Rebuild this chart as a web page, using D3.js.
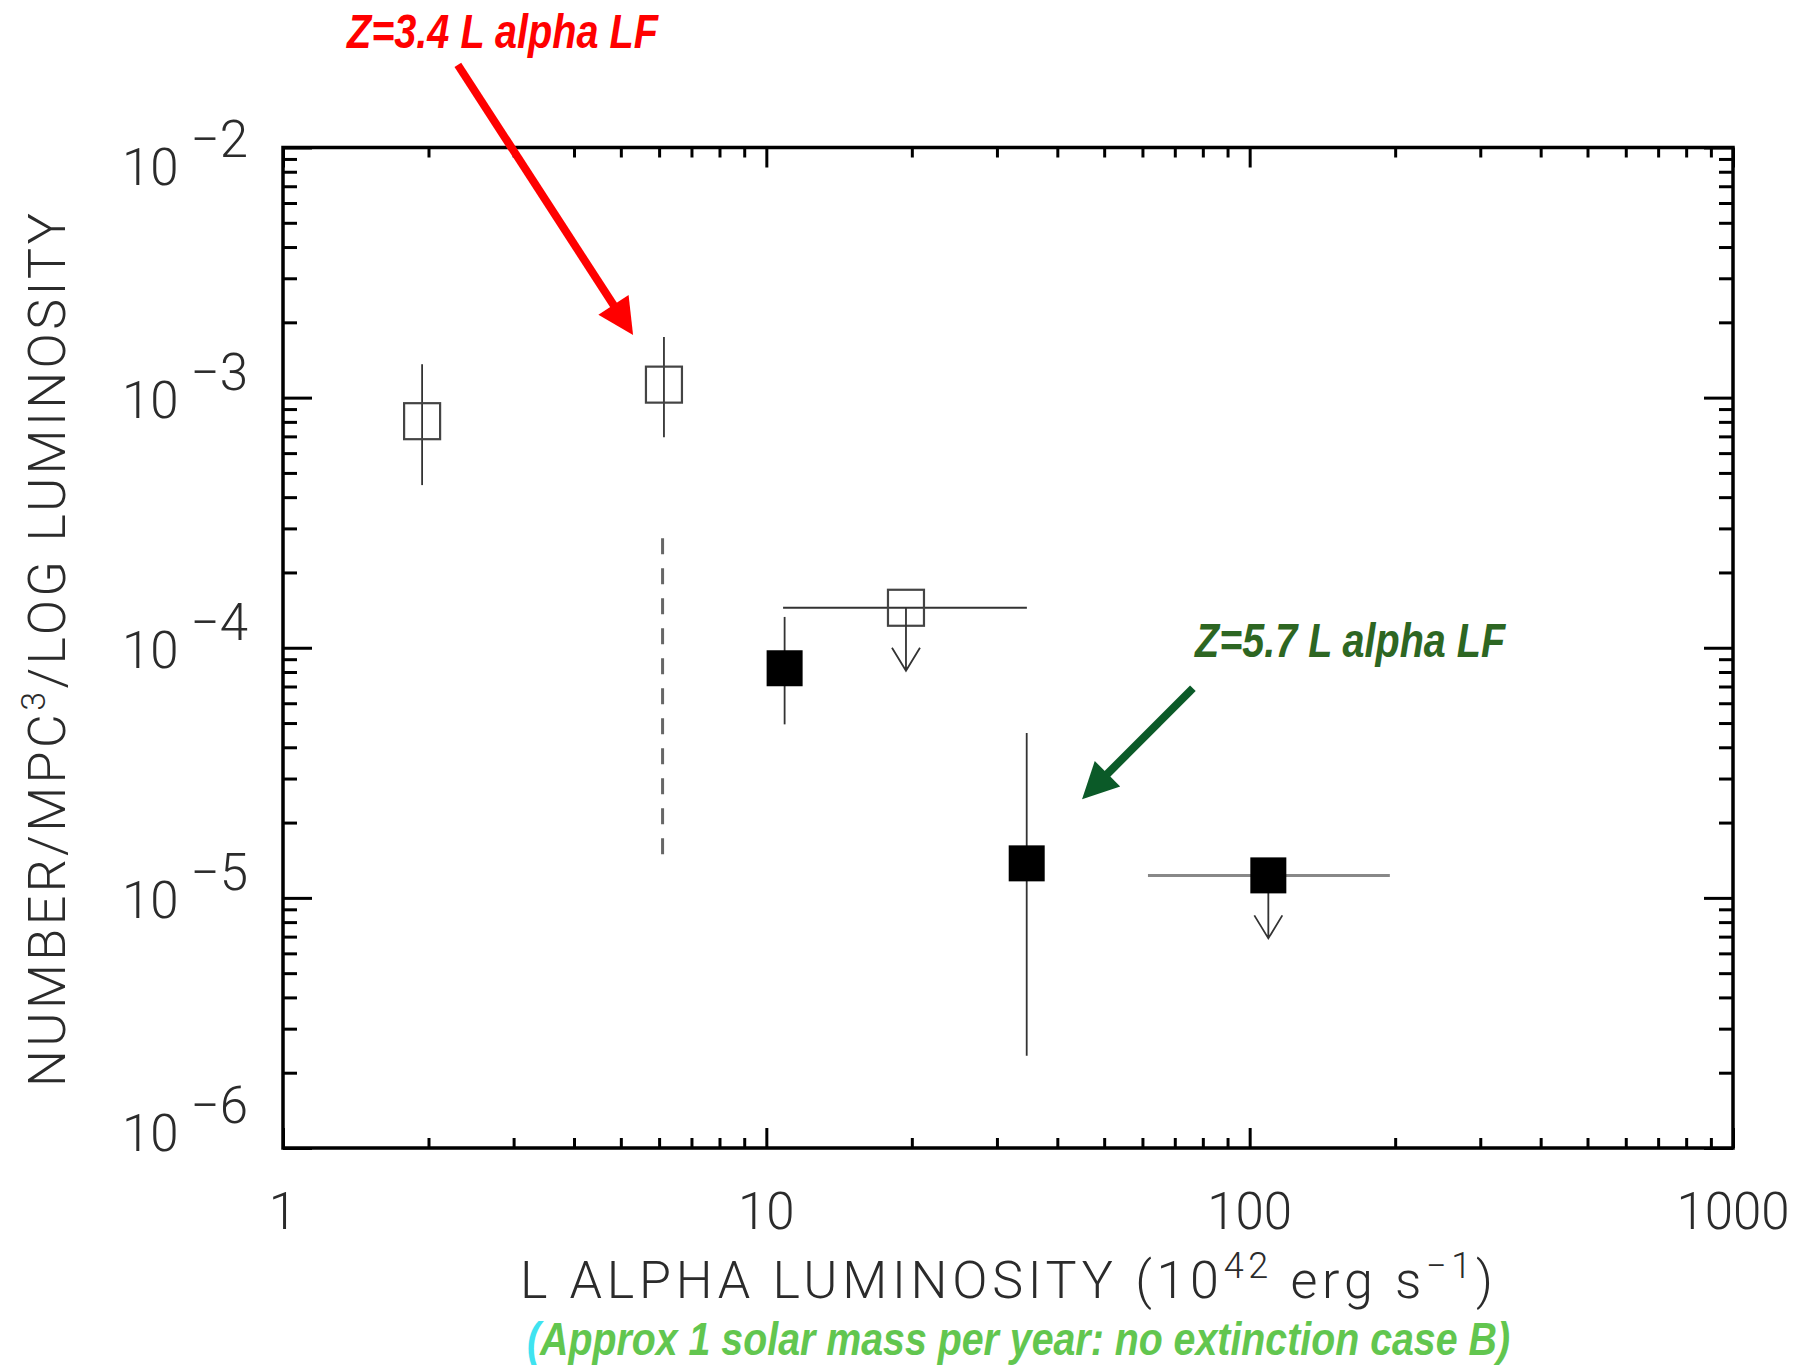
<!DOCTYPE html>
<html><head><meta charset="utf-8">
<script src="https://cdn.jsdelivr.net/npm/d3@7"></script>
<style>body{margin:0;background:#fff}</style>
</head><body><svg id="c" width="1804" height="1366" xmlns="http://www.w3.org/2000/svg"></svg>
<script>
// ---- data ----
const xDomain = [1, 1000];
const yDomain = [1e-6, 1e-2];
const xTickValues = [1, 10, 100, 1000];
const xTickLabels = ["1", "10", "100", "1000"];
const yTickExponents = [-2, -3, -4, -5, -6];

// z=3.4 open squares with vertical error bars
const openX = [1.94, 6.14];
const openY = [8.05e-4, 1.127e-3];
const openYLo = [4.47e-4, 6.95e-4];
const openYHi = [1.36e-3, 1.746e-3];

// dashed vertical range
const dashX = [6.10];
const dashYLo = [1.45e-5];
const dashYHi = [2.74e-4];

// open square upper limit with horizontal bin
const openLimX = [19.45];
const openLimY = [1.445e-4];
const openLimXLo = [10.83];
const openLimXHi = [34.6];

// z=5.7 filled squares with vertical error bars
const filledX = [10.91, 34.57];
const filledY = [8.28e-5, 1.374e-5];
const filledYLo = [4.94e-5, 2.34e-6];
const filledYHi = [1.328e-4, 4.56e-5];

// filled square upper limit with horizontal bin
const filledLimX = [109.3];
const filledLimY = [1.23e-5];
const filledLimXLo = [61.6];
const filledLimXHi = [195];

// annotations (data coordinates)
const redLabel = {text: "Z=3.4 L alpha LF", x: 1.356, y: 0.025};
const redArrowFrom = [2.30, 0.0214], redArrowTo = [5.30, 1.778e-3];
const greenLabel = {text: "Z=5.7 L alpha LF", x: 77.1, y: 9.16e-5};
const greenArrowFrom = [76.3, 6.89e-5], greenArrowTo = [45.0, 2.48e-5];

// ---- chart ----
const L = 283, R = 1733, T = 147.5, B = 1148;
const svg = d3.select("#c");
const x = d3.scaleLog().domain(xDomain).range([L, R]);
const y = d3.scaleLog().domain(yDomain).range([B, T]);

const isPow = v => Math.abs(Math.log10(v) - Math.round(Math.log10(v))) < 1e-9;
const xMinor = x.ticks().filter(v => !isPow(v));
const yMinor = y.ticks().filter(v => !isPow(v));
const yMajor = yTickExponents.map(e => Math.pow(10, e));

function styleAxis(g) {
  g.select(".domain").remove();
  g.selectAll(".tick line").attr("stroke", "#000").attr("stroke-width", 3);
  g.selectAll(".tick text").remove();
}
// minor ticks
svg.append("g").attr("transform", `translate(0,${B})`).call(d3.axisBottom(x).tickValues(xMinor).tickSize(-10).tickFormat("")).call(styleAxis);
svg.append("g").attr("transform", `translate(0,${T})`).call(d3.axisTop(x).tickValues(xMinor).tickSize(-10).tickFormat("")).call(styleAxis);
svg.append("g").attr("transform", `translate(${L},0)`).call(d3.axisLeft(y).tickValues(yMinor).tickSize(-14).tickFormat("")).call(styleAxis);
svg.append("g").attr("transform", `translate(${R},0)`).call(d3.axisRight(y).tickValues(yMinor).tickSize(-14).tickFormat("")).call(styleAxis);
// major ticks
svg.append("g").attr("transform", `translate(0,${B})`).call(d3.axisBottom(x).tickValues(xTickValues).tickSize(-20).tickFormat("")).call(styleAxis);
svg.append("g").attr("transform", `translate(0,${T})`).call(d3.axisTop(x).tickValues(xTickValues).tickSize(-20).tickFormat("")).call(styleAxis);
svg.append("g").attr("transform", `translate(${L},0)`).call(d3.axisLeft(y).tickValues(yMajor).tickSize(-29).tickFormat("")).call(styleAxis);
svg.append("g").attr("transform", `translate(${R},0)`).call(d3.axisRight(y).tickValues(yMajor).tickSize(-29).tickFormat("")).call(styleAxis);

// frame
svg.append("rect").attr("x", L).attr("y", T).attr("width", R - L).attr("height", B - T)
  .attr("fill", "none").attr("stroke", "#000").attr("stroke-width", 3.5);

const axisFont = "Roboto, 'DejaVu Sans', sans-serif";
const txtCol = "#2b2b2b";

// x tick labels
svg.append("g").selectAll("text").data(xTickValues).join("text")
  .attr("x", d => x(d)).attr("y", 1229).attr("text-anchor", "middle")
  .attr("font-family", axisFont).attr("font-weight", 300).attr("font-size", 51).attr("fill", txtCol)
  .text((d, i) => xTickLabels[i]);

// y tick labels
const yl = svg.append("g").selectAll("text").data(yTickExponents).join("text")
  .attr("x", 122)
  .attr("y", (e, i) => y(Math.pow(10, e)) + 20 + (i === 0 ? 17.5 : i === yTickExponents.length - 1 ? -17.5 : 0))
  .attr("font-family", axisFont).attr("font-weight", 300).attr("font-size", 51).attr("fill", txtCol);
yl.append("tspan").text("10");
yl.append("tspan").attr("dx", 12).attr("dy", -28).text(e => "\u2212" + Math.abs(e));

// axis titles
const yt = svg.append("text").attr("transform", "translate(65,650) rotate(-90)")
  .attr("text-anchor", "middle").attr("font-family", axisFont).attr("font-weight", 300)
  .attr("font-size", 52).attr("fill", txtCol).attr("textLength", 874).attr("lengthAdjust", "spacing");
yt.append("tspan").text("NUMBER/MPC");
yt.append("tspan").attr("font-size", 34).attr("dy", -20).text("3");
yt.append("tspan").attr("dy", 20).text("/LOG LUMINOSITY");

const xt = svg.append("text").attr("x", 520).attr("y", 1298)
  .attr("font-family", axisFont).attr("font-weight", 300)
  .attr("font-size", 52).attr("fill", txtCol).attr("textLength", 973).attr("lengthAdjust", "spacing");
xt.append("tspan").text("L ALPHA LUMINOSITY (10");
xt.append("tspan").attr("font-size", 36).attr("dy", -20).text("42");
xt.append("tspan").attr("dy", 20).text(" erg s");
xt.append("tspan").attr("font-size", 36).attr("dy", -20).text("\u22121");
xt.append("tspan").attr("dy", 20).text(")");

// subtitle
const annFont = "'Liberation Sans', Arial, sans-serif";
const st = svg.append("text").attr("x", 527).attr("y", 1355)
  .attr("font-family", annFont)
  .attr("font-weight", "bold").attr("font-style", "italic").attr("font-size", 46)
  .attr("textLength", 983).attr("lengthAdjust", "spacingAndGlyphs");
st.append("tspan").attr("fill", "#3fe3f0").text("(");
st.append("tspan").attr("fill", "#62c64f").text("Approx 1 solar mass per year: no extinction case B)");

// ---- marks ----
const ink = "#333";
const sq = 36;
const plot = svg.append("g");

// dashed range
plot.selectAll(".dash").data(dashX).join("line")
  .attr("x1", d => x(d)).attr("x2", d => x(d))
  .attr("y1", (d, i) => y(dashYHi[i])).attr("y2", (d, i) => y(dashYLo[i]))
  .attr("stroke", "#666").attr("stroke-width", 3).attr("stroke-dasharray", "16 14");

// open error bars
plot.selectAll(".oe").data(openX).join("line")
  .attr("x1", d => x(d)).attr("x2", d => x(d))
  .attr("y1", (d, i) => y(openYHi[i])).attr("y2", (d, i) => y(openYLo[i]))
  .attr("stroke", ink).attr("stroke-width", 1.8);
plot.selectAll(".os").data(openX).join("rect")
  .attr("x", d => x(d) - sq / 2).attr("y", (d, i) => y(openY[i]) - sq / 2)
  .attr("width", sq).attr("height", sq).attr("fill", "none").attr("stroke", "#444").attr("stroke-width", 2.2);

// open upper limit
plot.selectAll(".olh").data(openLimX).join("line")
  .attr("x1", (d, i) => x(openLimXLo[i])).attr("x2", (d, i) => x(openLimXHi[i]))
  .attr("y1", (d, i) => y(openLimY[i])).attr("y2", (d, i) => y(openLimY[i]))
  .attr("stroke", ink).attr("stroke-width", 1.8);
plot.selectAll(".ols").data(openLimX).join("rect")
  .attr("x", d => x(d) - sq / 2).attr("y", (d, i) => y(openLimY[i]) - sq / 2)
  .attr("width", sq).attr("height", sq).attr("fill", "none").attr("stroke", "#444").attr("stroke-width", 2.2);

function limitArrow(cx, cy) {
  plot.append("path")
    .attr("d", `M${cx},${cy}V${cy + 63}M${cx - 14},${cy + 40}L${cx},${cy + 63}L${cx + 14},${cy + 40}`)
    .attr("fill", "none").attr("stroke", ink).attr("stroke-width", 1.8);
}
openLimX.forEach((d, i) => limitArrow(x(d), y(openLimY[i])));

// filled error bars
plot.selectAll(".fe").data(filledX).join("line")
  .attr("x1", d => x(d)).attr("x2", d => x(d))
  .attr("y1", (d, i) => y(filledYHi[i])).attr("y2", (d, i) => y(filledYLo[i]))
  .attr("stroke", ink).attr("stroke-width", 1.8);
plot.selectAll(".fs").data(filledX).join("rect")
  .attr("x", d => x(d) - sq / 2).attr("y", (d, i) => y(filledY[i]) - sq / 2)
  .attr("width", sq).attr("height", sq).attr("fill", "#000");

// filled upper limit
plot.selectAll(".flh").data(filledLimX).join("line")
  .attr("x1", (d, i) => x(filledLimXLo[i])).attr("x2", (d, i) => x(filledLimXHi[i]))
  .attr("y1", (d, i) => y(filledLimY[i])).attr("y2", (d, i) => y(filledLimY[i]))
  .attr("stroke", "#888").attr("stroke-width", 3);
filledLimX.forEach((d, i) => limitArrow(x(d), y(filledLimY[i])));
plot.selectAll(".fls").data(filledLimX).join("rect")
  .attr("x", d => x(d) - sq / 2).attr("y", (d, i) => y(filledLimY[i]) - sq / 2)
  .attr("width", sq).attr("height", sq).attr("fill", "#000");

// ---- annotations ----
function bigArrow(from, to, color) {
  const x1 = x(from[0]), y1 = y(from[1]), x2 = x(to[0]), y2 = y(to[1]);
  const dx = x2 - x1, dy = y2 - y1, len = Math.hypot(dx, dy), ux = dx / len, uy = dy / len;
  const hl = 36, hw = 18;
  const bx = x2 - ux * hl, by = y2 - uy * hl;
  svg.append("line").attr("x1", x1).attr("y1", y1).attr("x2", bx + ux * 4).attr("y2", by + uy * 4)
    .attr("stroke", color).attr("stroke-width", 8);
  svg.append("polygon")
    .attr("points", `${x2},${y2} ${bx - uy * hw},${by + ux * hw} ${bx + uy * hw},${by - ux * hw}`)
    .attr("fill", color);
}
svg.append("text").attr("x", x(redLabel.x)).attr("y", y(redLabel.y))
  .attr("font-family", annFont).attr("font-weight", "bold").attr("font-style", "italic")
  .attr("font-size", 48).attr("fill", "#ff0000")
  .attr("textLength", 311).attr("lengthAdjust", "spacingAndGlyphs").text(redLabel.text);
bigArrow(redArrowFrom, redArrowTo, "#ff0000");

svg.append("text").attr("x", x(greenLabel.x)).attr("y", y(greenLabel.y))
  .attr("font-family", annFont).attr("font-weight", "bold").attr("font-style", "italic")
  .attr("font-size", 48).attr("fill", "#2d6622")
  .attr("textLength", 310).attr("lengthAdjust", "spacingAndGlyphs").text(greenLabel.text);
bigArrow(greenArrowFrom, greenArrowTo, "#0b5a28");
</script>
</body></html>
